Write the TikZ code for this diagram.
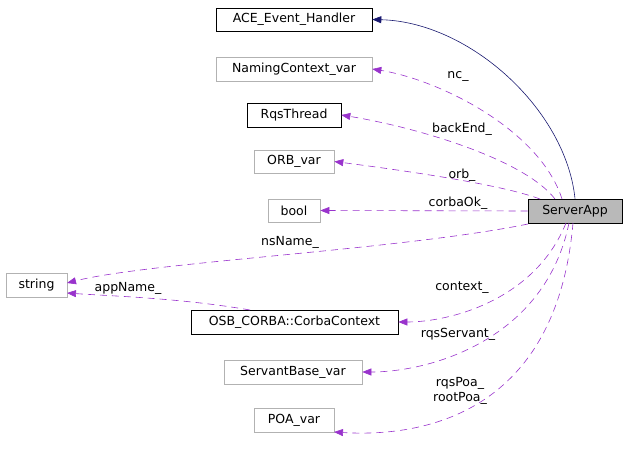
\documentclass[tikz,border=0pt]{standalone}
\usepackage{fontspec}
\setmainfont{DejaVu Sans}
\usetikzlibrary{arrows.meta}
\definecolor{redb}{RGB}{255,0,0}
\begin{document}
\begin{tikzpicture}[x=1pt,y=-1pt,
  box/.style={draw=gray!60,line width=0.6pt,inner sep=0pt,font=\fontsize{12.5}{15}\selectfont},
  redbox/.style={box,draw=redb,color=black},
  mem/.style={draw={rgb,255:red,153;green,51;blue,204},dash pattern=on 7pt off 5pt,line width=0.6pt,-{Triangle[length=9pt,width=7pt]}},
  lab/.style={font=\fontsize{12.5}{15}\selectfont,inner sep=1pt}]
\useasboundingbox (0,0) rectangle (627,452);
\node[box,draw=black,minimum width=156,minimum height=23] (ace) at (294,19.5) {ACE\_Event\_Handler};
\node[box,minimum width=156,minimum height=24] (nc) at (294,69) {NamingContext\_var};
\node[redbox,minimum width=94,minimum height=24] (rqs) at (294,115) {RqsThread};
\node[box,minimum width=80,minimum height=23] (orb) at (294,161.5) {ORB\_var};
\node[box,minimum width=52,minimum height=23] (bool) at (294,210.5) {bool};
\node[box,draw=black,fill=gray!55,minimum width=94,minimum height=24] (srv) at (575,211) {ServerApp};
\node[box,minimum width=61,minimum height=24] (str) at (36.5,285) {string};
\node[redbox,minimum width=207,minimum height=24] (ctx) at (294.5,322) {OSB\_CORBA::CorbaContext};
\node[box,minimum width=138,minimum height=24] (sb) at (293,372) {ServantBase\_var};
\node[box,minimum width=80,minimum height=24] (poa) at (294,420) {POA\_var};

\draw[draw={rgb,255:red,25;green,25;blue,112},line width=0.6pt,-{Triangle[length=9pt,width=7pt]}]
  (srv.north) .. controls (566,110) and (470,22) .. (ace.east);
\draw[mem] (562,199) .. controls (540,130) and (440,80) .. (nc.east);
\draw[mem] (555,199) .. controls (525,160) and (420,128) .. (rqs.east);
\draw[mem] (540,199) .. controls (500,184) and (400,170) .. (orb.east);
\draw[mem] (srv.west) -- (bool.east);
\draw[mem] (528,224) .. controls (400,250) and (150,262) .. (67,283);
\draw[mem] (250,310) .. controls (180,298) and (110,296) .. (67,293);
\draw[mem] (566,223) .. controls (535,300) and (450,322) .. (ctx.east);
\draw[mem] (569,223) .. controls (545,340) and (430,372) .. (sb.east);
\draw[mem] (573,223) .. controls (555,430) and (400,436) .. (334,432);

\node[lab] (l1) at (458,76) {nc\_};
\node[lab] (l2) at (462,129) {backEnd\_};
\node[lab] (l3) at (462,175) {orb\_};
\node[lab] (l4) at (458,203) {corbaOk\_};
\node[lab] (l5) at (290,242) {nsName\_};
\node[lab] (l6) at (128,288) {appName\_};
\node[lab] (l7) at (462,288) {context\_};
\node[lab] (l8) at (458,334) {rqsServant\_};
\node[lab,align=center] (l9) at (460,391) {rqsPoa\_\\rootPoa\_};
\end{tikzpicture}
\end{document}
